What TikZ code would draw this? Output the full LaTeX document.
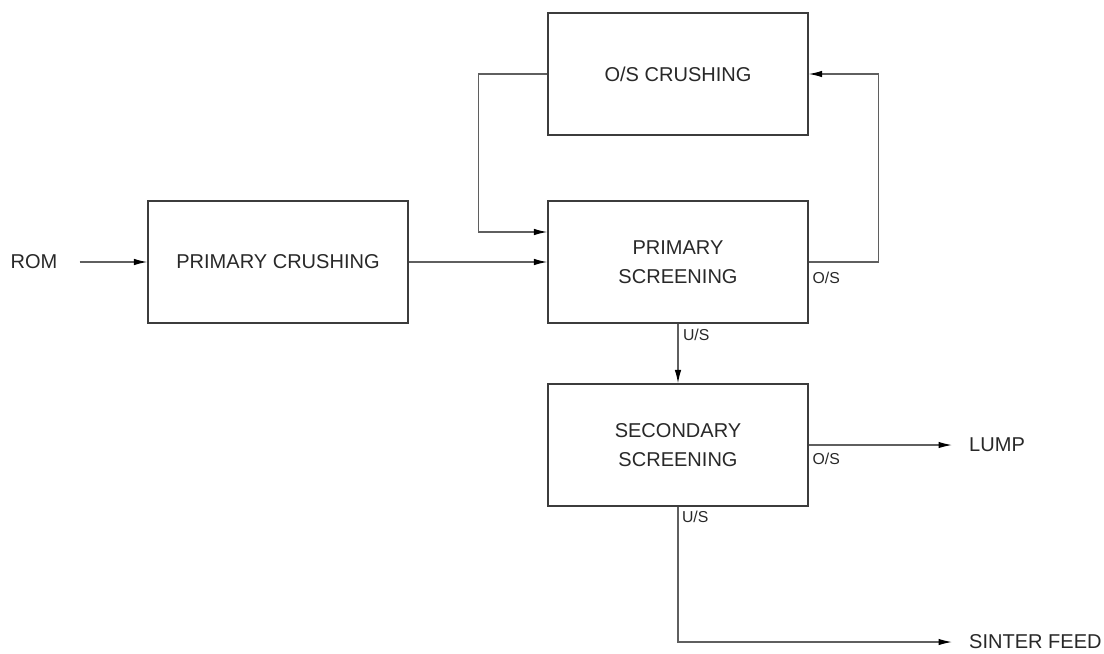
\documentclass[tikz,border=0pt]{standalone}
\usepackage{fontspec}
\setmainfont{Liberation Sans}
\usepackage{tikz}
\usetikzlibrary{calc}
\usetikzlibrary{arrows.meta}
\usetikzlibrary{positioning}
\definecolor{boxline}{RGB}{60, 60, 60}
\definecolor{flowline}{RGB}{95, 95, 95}
\definecolor{inktext}{RGB}{40, 40, 40}

\tikzset{
  unitbox/.style={draw=boxline, line width=0.7pt, minimum width=5.2cm, minimum height=2.44cm,
                  align=center, text=inktext, font=\fontsize{11.4}{16.5}\selectfont},
  flow/.style={draw=flowline, line width=0.7pt, -{Latex[length=0.27cm, width=0.13cm, black]}},
  stream/.style={text=inktext, font=\fontsize{11.4}{13}\selectfont},
  tag/.style={text=inktext, font=\fontsize{9}{10}\selectfont, inner sep=1.5pt, anchor=north west}
}

\begin{document}
\begin{tikzpicture}[x=0.02cm, y=-0.02cm]
            \useasboundingbox (0,0) rectangle (1104,653);
            \node[unitbox] (crush)    at (278, 262) {PRIMARY CRUSHING};
            \node[unitbox] (pscreen)  at (678, 262) {PRIMARY\\SCREENING};
            \node[unitbox] (oscrush)  at (678,  74) {O/S CRUSHING};
            \node[unitbox] (sscreen)  at (678, 445) {SECONDARY\\SCREENING};
            \node[stream]  (rom)      at ( 34, 262) {ROM};
            \node[stream, anchor=west] (lump)   at (963, 445) {LUMP};
            \node[stream, anchor=west] (sinter) at (963, 642) {SINTER FEED};

            \draw[flow, shorten <=0.32cm] (rom) -- (crush);
            \draw[flow] (crush) -- (pscreen);
            \draw[flow] (oscrush.west) -- ++(-69,0) |- ($(pscreen.west)+(0,-30)$);
            \draw[flow] (pscreen.east) -- ++(70,0) |- (oscrush.east);
            \draw[flow] (pscreen) -- (sscreen);
            \draw[flow, shorten >=0.22cm] (sscreen.east) -- (lump.west);
            \draw[flow, shorten >=0.22cm] (sscreen.south) |- (sinter.west);

            \node[tag] (os1) at ($(pscreen.east)+(1,7)$)  {O/S};
            \node[tag] (us1) at ($(pscreen.south)+(2,2)$) {U/S};
            \node[tag] (os2) at ($(sscreen.east)+(1,5)$)  {O/S};
            \node[tag] (us2) at ($(sscreen.south)+(1,1)$) {U/S};
\end{tikzpicture}
\end{document}
